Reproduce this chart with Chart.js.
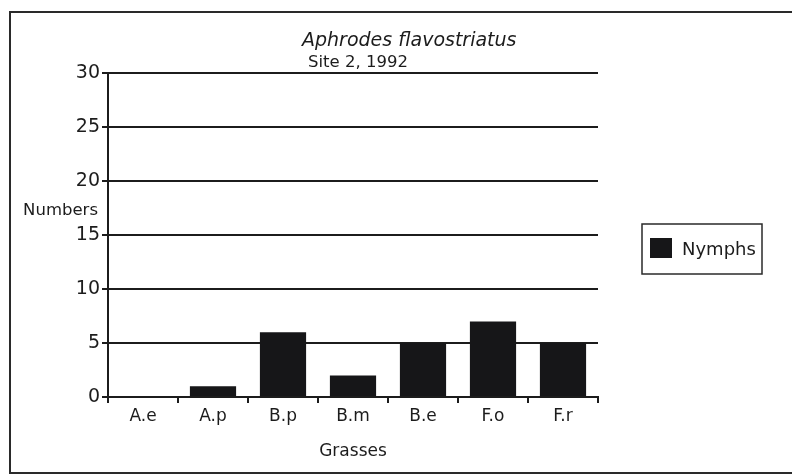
<!DOCTYPE html>
<html>
<head>
<meta charset="utf-8">
<script src="https://cdn.jsdelivr.net/npm/chart.js@4.4.0/dist/chart.umd.min.js"></script>
<style>
  html, body { margin: 0; padding: 0; background: #fff; }
  #wrap { position: relative; width: 792px; height: 476px; }
</style>
</head>
<body>
<div id="wrap"><canvas id="chart" width="792" height="476"></canvas></div>
<script>
// data
const grasses = ['A.e', 'A.p', 'B.p', 'B.m', 'B.e', 'F.o', 'F.r'];
const nymphs = [0, 1, 6, 2, 5, 7, 5];
const yTicks = [0, 5, 10, 15, 20, 25, 30];
const titleText = 'Aphrodes flavostriatus';
const subtitleText = 'Site 2, 1992';

const INK = '#1c1c1c';
const FONT = '"DejaVu Sans", Verdana, sans-serif';

// frame, titles, horizontal y label and boxed legend
const extras = {
  id: 'extras',
  afterDraw(chart) {
    const { ctx, scales } = chart;
    ctx.save();
    ctx.strokeStyle = '#2a2a2a';
    ctx.lineWidth = 2;
    ctx.strokeRect(10, 12, 800, 461);

    ctx.fillStyle = INK;
    ctx.textBaseline = 'alphabetic';
    ctx.textAlign = 'left';
    ctx.font = 'oblique 19px ' + FONT;
    ctx.fillText(titleText, 302, 46);
    ctx.textAlign = 'center';
    ctx.font = '16.5px ' + FONT;
    ctx.fillText(subtitleText, 358, 67);

    ctx.font = '16.5px ' + FONT;
    ctx.textAlign = 'right';
    ctx.fillText('Numbers', 98, 215);

    // legend
    const ds = chart.data.datasets[0];
    ctx.lineWidth = 1.5;
    ctx.strokeRect(642, 224, 120, 50);
    ctx.fillStyle = ds.backgroundColor;
    ctx.fillRect(650, 238, 22, 20);
    ctx.fillStyle = INK;
    ctx.textAlign = 'left';
    ctx.font = '18px ' + FONT;
    ctx.fillText(ds.label, 682, 255);
    ctx.restore();
  }
};

new Chart(document.getElementById('chart'), {
  type: 'bar',
  data: {
    labels: grasses,
    datasets: [{
      label: 'Nymphs',
      data: nymphs,
      backgroundColor: '#161618',
      borderWidth: 0,
      categoryPercentage: 1,
      barPercentage: 0.66
    }]
  },
  options: {
    responsive: false,
    animation: false,
    layout: { padding: { left: 0, right: 194, top: 73, bottom: 0 } },
    plugins: {
      legend: { display: false },
      tooltip: { enabled: false }
    },
    scales: {
      x: {
        grid: { display: true, drawOnChartArea: false, drawTicks: true, tickLength: 6, color: INK, lineWidth: 2, offset: true },
        border: { display: true, color: INK, width: 2 },
        ticks: { color: INK, font: { family: FONT, size: 17 }, padding: 3 },
        title: {
          display: true,
          text: 'Grasses',
          color: INK,
          font: { family: FONT, size: 17 },
          padding: { top: 0, bottom: 14 }
        },
        afterFit(scale) { scale.height = 79; }
      },
      y: {
        min: 0,
        max: 30,
        afterBuildTicks(scale) { scale.ticks = yTicks.map(v => ({ value: v })); },
        grid: { color: INK, lineWidth: 2, drawTicks: true, tickLength: 6 },
        border: { display: true, color: INK, width: 2 },
        ticks: { color: INK, font: { family: FONT, size: 19 }, padding: 2 },
        afterFit(scale) { scale.width = 108; }
      }
    }
  },
  plugins: [extras]
});
</script>
</body>
</html>
